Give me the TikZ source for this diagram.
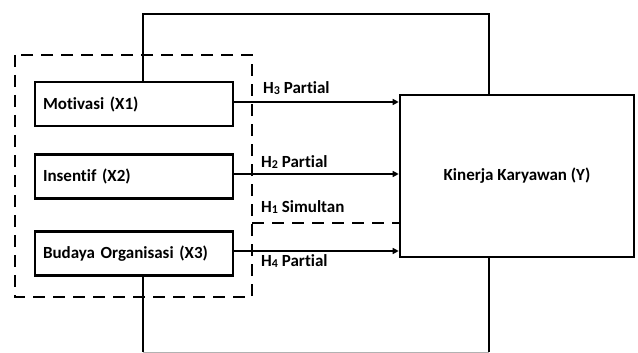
\documentclass[tikz,border=0pt]{standalone}
\usepackage{fontspec}
\setmainfont{Carlito}[Ligatures=NoCommon]
\usetikzlibrary{arrows.meta}
\tikzset{
  box/.style={draw=black, line width=2.6pt, fill=white, minimum height=44pt, text width=182pt, inner xsep=8pt, align=left, font=\bfseries\fontsize{17}{20}\selectfont},
  ybox/.style={draw=black, line width=2.6pt, fill=white, minimum width=234pt, minimum height=162pt, align=center, font=\bfseries\fontsize{17}{20}\selectfont},
  grpline/.style={line width=2.6pt, dash pattern=on 12pt off 8pt},
  conn/.style={line width=2.7pt},
  arr/.style={line width=2.2pt, -{Triangle[length=6pt,width=6pt]}},
  lbl/.style={anchor=west, inner sep=0pt, font=\bfseries\fontsize{17}{20}\selectfont},
}
\newcommand{\hsub}[1]{\raisebox{-1pt}{\fontsize{12}{12}\selectfont #1}}
\begin{document}
\begin{tikzpicture}[x=1pt,y=-1pt]
\useasboundingbox (0,0) rectangle (638,353);
% group dashed box
\draw[grpline] (15,55) rectangle (252,297);
\coordinate (h1) at (252,223);
% outer frame coordinates
\coordinate (tl) at (143,14);
\coordinate (tr) at (489,14);
\coordinate (bl) at (143,352);
\coordinate (br) at (489,352);
% nodes
\node[box] (m) at (134,104) {Motivasi (X1)};
\node[box] (i) at (134,176.5) {Insentif (X2)};
\node[box] (b) at (134,253.5) {Budaya Organisasi (X3)};
\node[ybox] (k) at (517,176) {Kinerja Karyawan (Y)};
% frame
\draw[conn] (m.north -| tl) -- (tl) -- (tr) -- (tr |- k.north);
\draw[conn] (b.south -| bl) -- (bl);
\draw[conn] (k.south -| br) -- (br);
\draw[gray!60, line width=1pt] (bl) -- (br);
% arrows
\draw[arr] ([yshift=2pt]m.east) -- ([yshift=2pt]m.east -| k.west);
\draw[arr] ([yshift=2.5pt]i.east) -- ([yshift=2.5pt]i.east -| k.west);
\draw[arr] ([yshift=2.5pt]b.east) -- ([yshift=2.5pt]b.east -| k.west);
\draw[grpline] (h1) -- (h1 -| k.west);
% labels
\node[lbl] (l3) at (263,88.5) {H\hsub{3} Partial};
\node[lbl] (l2) at (261,162) {H\hsub{2} Partial};
\node[lbl] (l1) at (261,207.5) {H\hsub{1} Simultan};
\node[lbl] (l4) at (261,261) {H\hsub{4} Partial};
\end{tikzpicture}
\end{document}
